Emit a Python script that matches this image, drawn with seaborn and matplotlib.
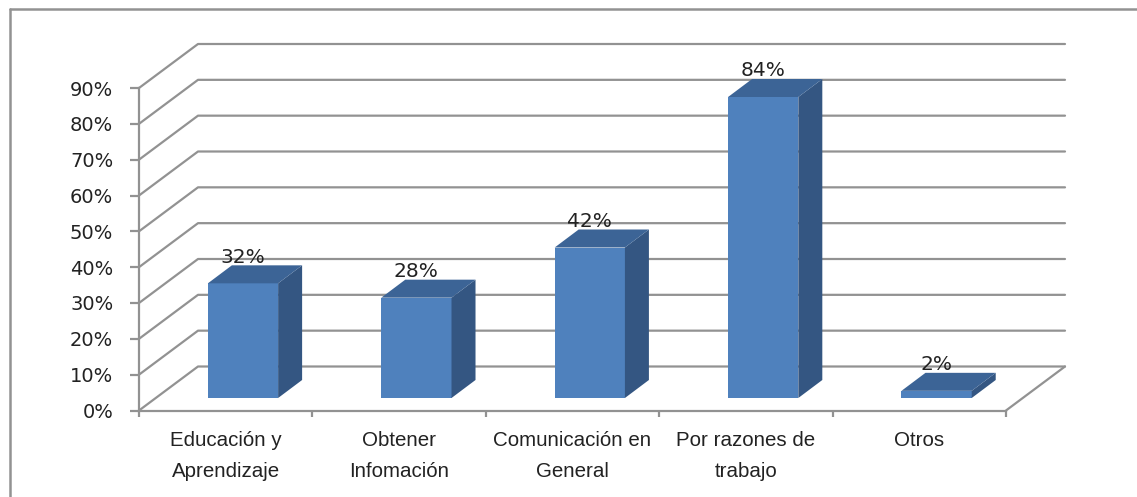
import pandas as pd
import matplotlib.pyplot as plt
import seaborn as sns
from matplotlib.lines import Line2D
from matplotlib.patches import Polygon
from matplotlib.ticker import FixedLocator

categorias = ["Educación y\nAprendizaje", "Obtener\nInfomación", "Comunicación en\nGeneral",
              "Por razones de\ntrabajo", "Otros"]
valores = [32, 28, 42, 84, 2]
etiquetas = ["32%", "28%", "42%", "84%", "2%"]
y_ticks = [0, 10, 20, 30, 40, 50, 60, 70, 80, 90]
y_labels = ["0%", "10%", "20%", "30%", "40%", "50%", "60%", "70%", "80%", "90%"]

W, H = 1137, 497
GRIS = "#929292"
TEXTO = "#222222"
FRENTE, LADO, TECHO = "#4f81bd", "#345682", "#3c6496"

sns.set_theme(style="white")
fig = plt.figure(figsize=(W / 100, H / 100), dpi=100)
# front plane of the fake 3d box, in pixels of the picture
left, right, y0, y90 = 139, 1006, 410.5, 88
ax = fig.add_axes([left / W, 1 - y0 / H, (right - left) / W, (y0 - y90) / H])

df = pd.DataFrame({"categoria": categorias, "valor": valores})
sns.barplot(data=df, x="categoria", y="valor", color=FRENTE, saturation=1, width=0.405,
            edgecolor="none", linewidth=0, ax=ax, zorder=3)
ax.set_xlim(-0.5, 4.5)
ax.set_ylim(0, 90)
ax.set_xlabel("")
ax.set_ylabel("")

# pixel -> data units
px_x = 5 / (right - left)
px_y = 90 / (y0 - y90)

# back wall and the diagonal lines
wall_dx, wall_dy = 59 * px_x, 44 * px_y
for t in y_ticks:
    ax.plot([-0.5, -0.5 + wall_dx, 4.5 + wall_dx], [t, t + wall_dy, t + wall_dy],
            color=GRIS, lw=1.6, clip_on=False, zorder=1)
ax.plot([4.5, 4.5 + wall_dx], [0, wall_dy], color=GRIS, lw=1.6, clip_on=False, zorder=1)

# bars sit in the middle of the floor depth, side and top faces built from the bar
shift_x, shift_y = 17.3 * px_x, 12.5 * px_y
depth_x, depth_y = 24 * px_x, 18 * px_y
for bar, txt in zip(ax.patches, etiquetas):
    bar.set_x(bar.get_x() + shift_x)
    bar.set_y(shift_y)
    bar.set_clip_on(False)
    x0, x1 = bar.get_x(), bar.get_x() + bar.get_width()
    b, t = shift_y, shift_y + bar.get_height()
    ax.add_patch(Polygon([(x1, b), (x1 + depth_x, b + depth_y), (x1 + depth_x, t + depth_y), (x1, t)],
                         color=LADO, lw=0, clip_on=False, zorder=3))
    ax.add_patch(Polygon([(x0, t), (x0 + depth_x, t + depth_y), (x1 + depth_x, t + depth_y), (x1, t)],
                         color=TECHO, lw=0, clip_on=False, zorder=3))
    ax.text((x0 + x1) / 2, t + 26 * px_y, txt, ha="center", va="center", fontsize=14.5,
            color=TEXTO, family="DejaVu Sans", zorder=5)

sns.despine(ax=ax, top=True, right=True)
for s in ["left", "bottom"]:
    ax.spines[s].set_color(GRIS)
    ax.spines[s].set_linewidth(1.6)
    ax.spines[s].set_zorder(2)

ax.set_yticks(y_ticks)
ax.set_yticklabels(y_labels, fontsize=14, color=TEXTO, family="DejaVu Sans")
ax.tick_params(axis="y", left=True, length=6.5, width=1.6, color=GRIS, pad=12)
ax.tick_params(axis="x", bottom=False, length=0, pad=15)
ax.xaxis.set_minor_locator(FixedLocator([-0.5, 0.5, 1.5, 2.5, 3.5, 4.5]))
ax.tick_params(axis="x", which="minor", bottom=True, length=4, width=1.6, color=GRIS)
for lab in ax.get_xticklabels():
    lab.set_fontsize(14.8)
    lab.set_color(TEXTO)
    lab.set_family("Liberation Sans")
    lab.set_linespacing(1.75)

# outer frame, cut by the picture edge on right and bottom
fig.add_artist(Line2D([10 / W, 1], [1 - 9 / H, 1 - 9 / H], color=GRIS, lw=1.8))
fig.add_artist(Line2D([10 / W, 10 / W], [0, 1 - 9 / H], color=GRIS, lw=1.8))

fig.savefig("out.png", dpi=100)
